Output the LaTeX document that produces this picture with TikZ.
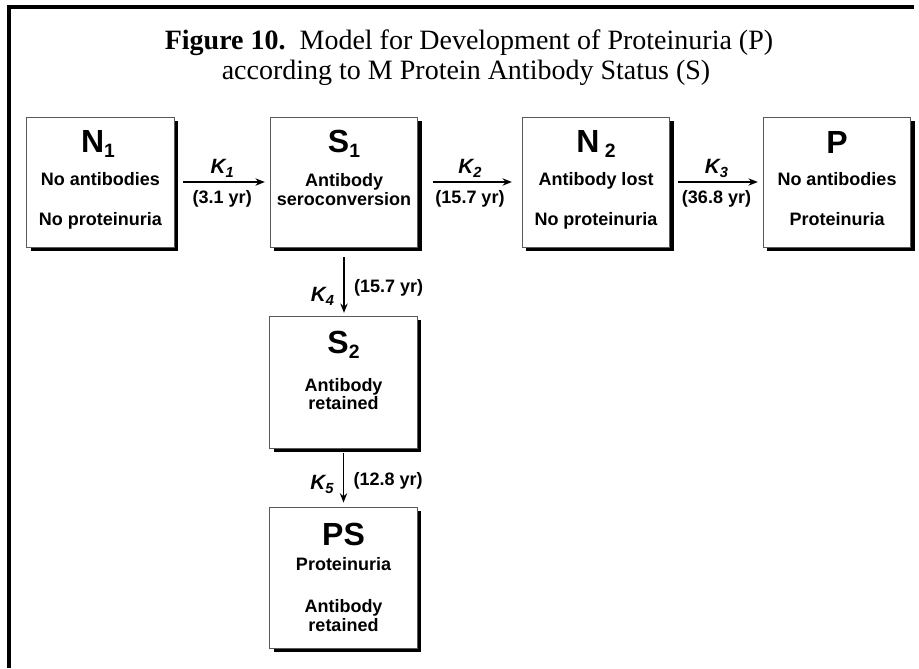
\documentclass[tikz,border=0pt]{standalone}
\usepackage{fontspec}
\setmainfont{Liberation Serif}
\setsansfont{Liberation Sans}
\usetikzlibrary{arrows.meta,shadows}

\newcommand{\stsub}[1]{\raisebox{-4pt}{\fontsize{14.5}{14}\selectfont #1}}
\newcommand{\ksub}[1]{\raisebox{-3pt}{\fontsize{11}{11}\selectfont #1}}

\tikzset{
  box/.style={draw=black!65, line width=0.7pt, fill=white, inner sep=0pt,
    minimum width=110.5pt, minimum height=97.5pt,
    general shadow={fill=black, shadow xshift=3pt, shadow yshift=-3pt}},
  head/.style={font=\sffamily\bfseries\fontsize{24}{26}\selectfont, inner sep=0pt, anchor=base},
  desc/.style={font=\sffamily\bfseries\fontsize{13.5}{15}\selectfont, inner sep=0pt, anchor=base},
  rate/.style={font=\sffamily\bfseries\fontsize{13.5}{15}\selectfont, inner sep=0pt},
  kk/.style={font=\sffamily\bfseries\itshape\fontsize{15.5}{16}\selectfont, inner sep=0pt},
  arr/.style={line width=1.1pt, -{Stealth[length=7pt,width=5.5pt]}},
  ttl/.style={font=\fontsize{21}{25}\selectfont, inner sep=0pt, anchor=base},
}

\begin{document}
\begin{tikzpicture}[x=0.75pt, y=-0.75pt]
   \useasboundingbox (0,0) rectangle (919,668);

   % frame
   \draw[line width=2.3pt] (9,668) -- (9,7) -- (914,7);

   % title
   \node[ttl] (title1) at (469,49) {\textbf{Figure 10.}\ \ Model for Development of Proteinuria (P)};
   \node[ttl] (title2) at (466,79) {according to M Protein Antibody Status (S)};

   % states
   \node[box] (n1) at (100.5,182) {};
   \node[box] (s1) at (344,182) {};
   \node[box] (n2) at (596,182) {};
   \node[box] (p)  at (837,182) {};
   \node[box, minimum height=99pt] (s2) at (343.5,382) {};
   \node[box, minimum height=105.75pt] (ps) at (343.5,577.5) {};

   \foreach \x/\y/\txt/\id in {98/152/{N\stsub{1}}/n1h, 344/152/{S\stsub{1}}/s1h,
        596/152/{N\,\stsub{2}}/n2h, 837/153/P/ph, 343.5/353/{S\stsub{2}}/s2h, 343.5/545/PS/psh}
        \node[head] (\id) at (\x,\y) {\txt};

   \foreach \x/\y/\txt/\id in {100.5/185/No antibodies/n1a, 100.5/225/No proteinuria/n1b,
        344/186/Antibody/s1a, 344/205/seroconversion/s1b,
        596/185/Antibody lost/n2a, 596/225/No proteinuria/n2b,
        837/185/No antibodies/pa, 837/225/Proteinuria/pb,
        343.5/391/Antibody/s2a, 343.5/409/retained/s2b,
        343.5/570/Proteinuria/psa, 343.5/612/Antibody/psb, 343.5/631/retained/psc}
        \node[desc] (\id) at (\x,\y) {\txt};

   % transitions
   \draw[arr, shorten <=6.5pt, shorten >=3.8pt] (n1) -- (s1)
        node[kk, midway, above=3pt] (k1) {K\ksub{1}}
        node[rate, midway, below=6pt] (r1) {(3.1 yr)};
   \draw[arr, shorten <=11pt, shorten >=7.5pt] (s1) -- (n2)
        node[kk, midway, above=3pt] (k2) {K\ksub{2}}
        node[rate, midway, below=6pt] (r2) {(15.7 yr)};
   \draw[arr, shorten <=6pt, shorten >=3.8pt] (n2) -- (p)
        node[kk, midway, above=3pt] (k3) {K\ksub{3}}
        node[rate, midway, below=6pt] (r3) {(36.8 yr)};
   \draw[arr, shorten <=7.5pt, shorten >=2pt] (s1.south) -- (s1.south |- s2.north)
        node[kk, pos=0.72, left=7pt] (k4) {K\ksub{4}}
        node[rate, pos=0.6, right=7pt] (r4) {(15.7 yr)};
   \draw[arr, shorten <=3.75pt, shorten >=3pt] (s2.south) -- (s2.south |- ps.north)
        node[kk, pos=0.62, left=7pt] (k5) {K\ksub{5}}
        node[rate, pos=0.55, right=7pt] (r5) {(12.8 yr)};

\end{tikzpicture}
\end{document}
